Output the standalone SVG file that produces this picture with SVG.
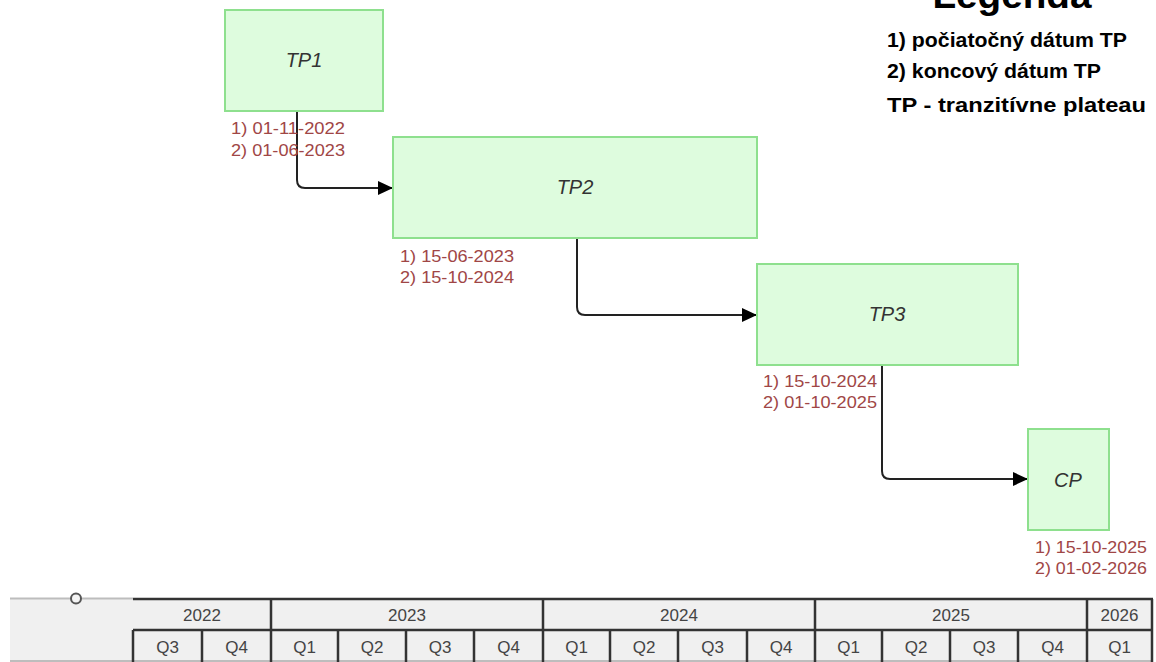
<svg xmlns="http://www.w3.org/2000/svg" width="1156" height="662" viewBox="0 0 1156 662">
<style>
.box{fill:#defcde;stroke:#8ee08e;stroke-width:2}
.nl{font-family:"Liberation Sans",Arial,sans-serif;font-style:italic;font-size:20px;fill:#333;text-anchor:middle}
.dl{font-family:"Liberation Sans",Arial,sans-serif;font-size:17px;fill:#a04646}
.lg{font-family:"Liberation Sans",Arial,sans-serif;font-weight:bold;fill:#000}
.conn{fill:none;stroke:#222;stroke-width:2}
.grid{stroke:#333;stroke-width:2.5;fill:none}
.tt{font-family:"Liberation Sans",Arial,sans-serif;font-size:17px;fill:#444;text-anchor:middle}
</style>
<defs>
<marker id="arr" markerWidth="16" markerHeight="14" refX="15" refY="7" orient="auto" markerUnits="userSpaceOnUse">
<path d="M0,0 L15,7 L0,14 Z" fill="#000"/>
</marker>
</defs>
<rect width="1156" height="662" fill="#fff"/>

<g id="legend">
<text class="lg" x="1012" y="8" font-size="36" text-anchor="middle" textLength="159" lengthAdjust="spacingAndGlyphs">Legenda</text>
<text class="lg" x="887" y="47" font-size="20" textLength="240" lengthAdjust="spacingAndGlyphs">1) počiatočný dátum TP</text>
<text class="lg" x="887" y="78" font-size="20" textLength="214" lengthAdjust="spacingAndGlyphs">2) koncový dátum TP</text>
<text class="lg" x="887" y="112" font-size="20" textLength="259" lengthAdjust="spacingAndGlyphs">TP - tranzitívne plateau</text>
</g>

<g id="connectors">
<path class="conn" d="M297,111 V180 Q297,188 305,188 H393" marker-end="url(#arr)"/>
<path class="conn" d="M577,238 V307 Q577,315 585,315 H757" marker-end="url(#arr)"/>
<path class="conn" d="M882,365 V471 Q882,479 890,479 H1028" marker-end="url(#arr)"/>
</g>

<g id="TP1">
<rect class="box" x="225" y="10" width="158" height="101"/>
<text class="nl" x="304" y="67">TP1</text>
<text class="dl" x="231" y="134" textLength="114" lengthAdjust="spacingAndGlyphs">1) 01-11-2022</text>
<text class="dl" x="231" y="156" textLength="114" lengthAdjust="spacingAndGlyphs">2) 01-06-2023</text>
</g>

<g id="TP2">
<rect class="box" x="393" y="137" width="364" height="101"/>
<text class="nl" x="575" y="194">TP2</text>
<text class="dl" x="400" y="262" textLength="114" lengthAdjust="spacingAndGlyphs">1) 15-06-2023</text>
<text class="dl" x="400" y="283" textLength="114" lengthAdjust="spacingAndGlyphs">2) 15-10-2024</text>
</g>

<g id="TP3">
<rect class="box" x="757" y="264" width="261" height="101"/>
<text class="nl" x="887" y="321">TP3</text>
<text class="dl" x="763" y="387" textLength="114" lengthAdjust="spacingAndGlyphs">1) 15-10-2024</text>
<text class="dl" x="763" y="408" textLength="114" lengthAdjust="spacingAndGlyphs">2) 01-10-2025</text>
</g>

<g id="CP">
<rect class="box" x="1028" y="429" width="81" height="101"/>
<text class="nl" x="1068" y="487">CP</text>
<text class="dl" x="1035" y="553" textLength="112" lengthAdjust="spacingAndGlyphs">1) 15-10-2025</text>
<text class="dl" x="1035" y="574" textLength="112" lengthAdjust="spacingAndGlyphs">2) 01-02-2026</text>
</g>

<g id="timeline">
<rect x="10" y="598" width="1142" height="64" fill="#f0f0f0"/>
<line x1="10" y1="598.5" x2="133" y2="598.5" stroke="#bdbdbd" stroke-width="2"/>
<line x1="10" y1="661" x2="1152" y2="661" stroke="#bdbdbd" stroke-width="2"/>
<circle cx="76" cy="598.5" r="5" fill="#f4f4f4" stroke="#555" stroke-width="2"/>
<line class="grid" x1="133" y1="599" x2="1153" y2="599" stroke-width="3"/>
<line class="grid" x1="133" y1="630" x2="1153" y2="630"/>
<line class="grid" x1="133" y1="630" x2="133" y2="662"/>
<g class="grid">
<line x1="271" y1="599" x2="271" y2="662"/>
<line x1="543" y1="599" x2="543" y2="662"/>
<line x1="815" y1="599" x2="815" y2="662"/>
<line x1="1087" y1="599" x2="1087" y2="662"/>
<line x1="1152" y1="599" x2="1152" y2="662"/>
<line x1="202" y1="630" x2="202" y2="662"/>
<line x1="338" y1="630" x2="338" y2="662"/>
<line x1="406" y1="630" x2="406" y2="662"/>
<line x1="474" y1="630" x2="474" y2="662"/>
<line x1="610" y1="630" x2="610" y2="662"/>
<line x1="678" y1="630" x2="678" y2="662"/>
<line x1="747" y1="630" x2="747" y2="662"/>
<line x1="882" y1="630" x2="882" y2="662"/>
<line x1="950" y1="630" x2="950" y2="662"/>
<line x1="1018" y1="630" x2="1018" y2="662"/>
</g>
<text class="tt" x="202" y="621">2022</text>
<text class="tt" x="407" y="621">2023</text>
<text class="tt" x="679" y="621">2024</text>
<text class="tt" x="951" y="621">2025</text>
<text class="tt" x="1119.5" y="621">2026</text>
<text class="tt" x="167.5" y="653">Q3</text>
<text class="tt" x="236.5" y="653">Q4</text>
<text class="tt" x="304.5" y="653">Q1</text>
<text class="tt" x="372" y="653">Q2</text>
<text class="tt" x="440" y="653">Q3</text>
<text class="tt" x="508.5" y="653">Q4</text>
<text class="tt" x="576.5" y="653">Q1</text>
<text class="tt" x="644" y="653">Q2</text>
<text class="tt" x="712.5" y="653">Q3</text>
<text class="tt" x="781" y="653">Q4</text>
<text class="tt" x="848.5" y="653">Q1</text>
<text class="tt" x="916" y="653">Q2</text>
<text class="tt" x="984" y="653">Q3</text>
<text class="tt" x="1052.5" y="653">Q4</text>
<text class="tt" x="1119.5" y="653">Q1</text>
</g>
</svg>
